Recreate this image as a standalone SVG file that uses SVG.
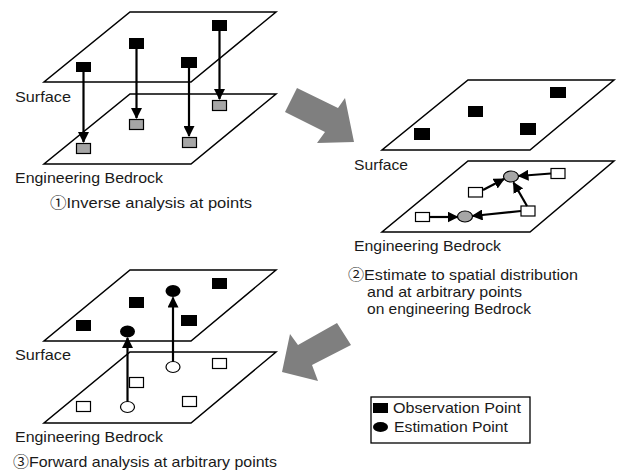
<svg xmlns="http://www.w3.org/2000/svg" width="617" height="472" viewBox="0 0 617 472">
<style>
.plane{fill:#fff;stroke:#000;stroke-width:1.5;stroke-linejoin:miter}
.obs{fill:#000}
.grs{fill:#a6a6a6;stroke:#000;stroke-width:1.2}
.wts{fill:#fff;stroke:#000;stroke-width:1.2}
.ge{fill:#a6a6a6;stroke:#000;stroke-width:1.2}
.we{fill:#fff;stroke:#000;stroke-width:1.2}
.be{fill:#000}
.con{stroke:#000;stroke-width:2.2;fill:none;marker-end:url(#ah)}
.big{fill:#7f7f7f}
text{font-family:"Liberation Sans",Arial,"Noto Sans CJK JP",sans-serif;font-size:15px;fill:#1a1a1a}
.cn{font-family:"Noto Sans CJK JP","DejaVu Sans",sans-serif}
</style>
<defs>
<marker id="ah" markerUnits="userSpaceOnUse" markerWidth="11" markerHeight="11" refX="10" refY="5.5" orient="auto">
<path d="M0,0 L11,5.5 L0,11 z" fill="#000"/>
</marker>
</defs>

<g id="panel1-bedrock">
<polygon class="plane" points="130,94 276,94 191,164 44,164"/>
<rect class="grs" x="76.5" y="143.5" width="14" height="10"/>
<rect class="grs" x="129.5" y="119.5" width="14" height="10"/>
<rect class="grs" x="182.5" y="137.5" width="14" height="10"/>
<rect class="grs" x="212.5" y="100.5" width="14" height="10"/>
</g>
<g id="panel1-surface">
<polygon class="plane" points="130,12 276,12 191,82 44,82" fill-opacity="0"/>
<rect class="obs" x="76" y="62" width="15" height="10"/>
<rect class="obs" x="129" y="38" width="15" height="11"/>
<rect class="obs" x="181" y="57" width="16" height="11"/>
<rect class="obs" x="212" y="20" width="15" height="11"/>
</g>

<g id="panel2-surface">
<polygon class="plane" points="468,80 614,80 530,150 382,150"/>
<rect class="obs" x="414" y="128" width="16" height="12"/>
<rect class="obs" x="468" y="106" width="15" height="11"/>
<rect class="obs" x="520" y="123" width="16" height="12"/>
<rect class="obs" x="550" y="87" width="16" height="11"/>
</g>
<g id="panel2-bedrock">
<polygon class="plane" points="468,161 614,161 530,232 382,232"/>
<rect class="wts" x="415.5" y="212.5" width="14" height="9"/>
<rect class="wts" x="468.5" y="187.5" width="14" height="9.5"/>
<rect class="wts" x="551" y="168.5" width="14" height="10"/>
<rect class="wts" x="521" y="206" width="14" height="10"/>
<ellipse class="ge" cx="511" cy="176.5" rx="7.5" ry="5.5"/>
<ellipse class="ge" cx="465" cy="216.5" rx="7.5" ry="5.5"/>
</g>

<g id="panel3-bedrock">
<polygon class="plane" points="130,352 276,352 191,423 44,423"/>
<rect class="wts" x="76.5" y="401.5" width="14" height="10"/>
<rect class="wts" x="129.5" y="377.5" width="14" height="10"/>
<rect class="wts" x="182.5" y="396.5" width="14" height="10"/>
<rect class="wts" x="212.5" y="358.5" width="14" height="10"/>
<ellipse class="we" cx="127.5" cy="407" rx="7" ry="5.5"/>
<ellipse class="we" cx="173" cy="367" rx="7" ry="5.5"/>
</g>
<g id="panel3-surface">
<polygon class="plane" points="130,270 276,270 191,341 44,341" fill-opacity="0"/>
<rect class="obs" x="76" y="320" width="15" height="11"/>
<rect class="obs" x="129" y="297" width="15" height="11"/>
<rect class="obs" x="181" y="315" width="16" height="11"/>
<rect class="obs" x="212" y="278" width="15" height="11"/>
<ellipse class="be" cx="127.5" cy="331.5" rx="7.5" ry="6"/>
<ellipse class="be" cx="173" cy="291" rx="7.5" ry="6"/>
</g>

<g id="connectors">
<line class="con" x1="83.5" y1="72" x2="83.5" y2="142"/>
<line class="con" x1="136.5" y1="49" x2="136.5" y2="118"/>
<line class="con" x1="189" y1="68" x2="189" y2="136"/>
<line class="con" x1="219.5" y1="31" x2="219.5" y2="99"/>
<line class="con" x1="430" y1="217" x2="457.5" y2="217"/>
<line class="con" x1="521" y1="211" x2="472.5" y2="216"/>
<line class="con" x1="483" y1="190" x2="504" y2="179"/>
<line class="con" x1="551" y1="173.5" x2="518.5" y2="176"/>
<line class="con" x1="527" y1="206" x2="513.5" y2="182.5"/>
<line class="con" x1="127.5" y1="401.5" x2="127.5" y2="338"/>
<line class="con" x1="173" y1="361.5" x2="173" y2="297.5"/>
<polygon class="big" points="297,88 338,108 345,98 354,142 317,143 325,132 285,112"/>
<polygon class="big" points="337,323 298,345 290,334 282,372 318,381 312,365 351,345"/>
</g>

<g id="legend">
<rect x="371" y="397" width="159" height="46" fill="#fff" stroke="#000" stroke-width="1.3"/>
<rect class="obs" x="373" y="403" width="15" height="10"/>
<ellipse class="be" cx="380.5" cy="427" rx="7.5" ry="5"/>
<text x="393" y="413" textLength="128" lengthAdjust="spacingAndGlyphs">Observation Point</text>
<text x="394" y="432" textLength="114" lengthAdjust="spacingAndGlyphs">Estimation Point</text>
</g>

<g id="labels">
<text x="15" y="102" textLength="56" lengthAdjust="spacingAndGlyphs">Surface</text>
<text x="15" y="183" textLength="148" lengthAdjust="spacingAndGlyphs">Engineering Bedrock</text>
<text x="50" y="208" textLength="202" lengthAdjust="spacingAndGlyphs"><tspan class="cn">①</tspan>Inverse analysis at points</text>
<text x="354" y="170" textLength="54" lengthAdjust="spacingAndGlyphs">Surface</text>
<text x="354" y="251" textLength="147" lengthAdjust="spacingAndGlyphs">Engineering Bedrock</text>
<text x="348" y="280" textLength="230" lengthAdjust="spacingAndGlyphs"><tspan class="cn">②</tspan>Estimate to spatial distribution</text>
<text x="367" y="297" textLength="155" lengthAdjust="spacingAndGlyphs">and at arbitrary points</text>
<text x="367" y="314" textLength="164" lengthAdjust="spacingAndGlyphs">on engineering Bedrock</text>
<text x="15" y="360" textLength="56" lengthAdjust="spacingAndGlyphs">Surface</text>
<text x="15" y="442" textLength="148" lengthAdjust="spacingAndGlyphs">Engineering Bedrock</text>
<text x="13" y="467" textLength="264" lengthAdjust="spacingAndGlyphs"><tspan class="cn">③</tspan>Forward analysis at arbitrary points</text>
</g>
</svg>
